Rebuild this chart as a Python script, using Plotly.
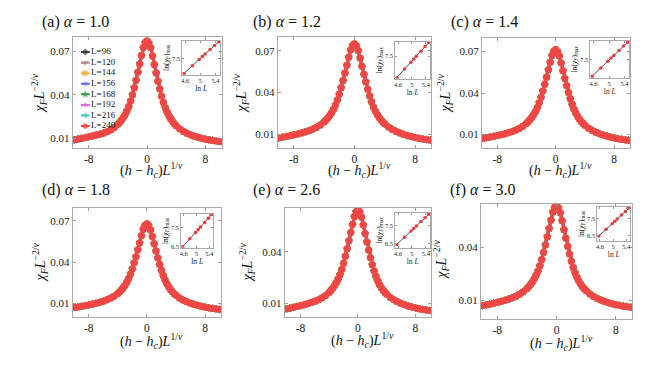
import plotly.graph_objects as go

# scaled field (h - hc) L^(1/nu)
x_scaled = [-10.0, -9.5, -9.0, -8.5, -8.0, -7.5, -7.0, -6.5, -6.0, -5.5, -5.0, -4.5,
            -4.0, -3.75, -3.5, -3.25, -3.0, -2.75, -2.5, -2.25, -2.0, -1.75, -1.5, -1.25,
            -1.0, -0.75, -0.5, -0.25, 0.0,
            0.25, 0.5, 0.75, 1.0, 1.25, 1.5, 1.75, 2.0, 2.25, 2.5, 2.75, 3.0,
            3.25, 3.5, 3.75, 4.0,
            4.5, 5.0, 5.5, 6.0, 6.5, 7.0, 7.5, 8.0, 8.5, 9.0, 9.5, 10.0]

# collapsed fidelity susceptibility chi_F L^(-2/nu), one list per alpha
chi_a = [0.0088, 0.0093, 0.0098, 0.0103, 0.0109, 0.0115, 0.0121, 0.0127, 0.0134, 0.0144, 0.0156, 0.0173,
         0.0195, 0.0209, 0.0225, 0.0243, 0.0263, 0.0289, 0.0319, 0.0357, 0.0399, 0.0448, 0.0500, 0.0556,
         0.0613, 0.0672, 0.0727, 0.0760, 0.0772,
         0.0758, 0.0725, 0.0668, 0.0608, 0.0550, 0.0493, 0.0440, 0.0390, 0.0347, 0.0310, 0.0280, 0.0254,
         0.0233, 0.0215, 0.0199, 0.0185,
         0.0163, 0.0146, 0.0133, 0.0122, 0.0113, 0.0106, 0.0099, 0.0093, 0.0088, 0.0084, 0.0080, 0.0076]
chi_b = [0.0074, 0.0079, 0.0084, 0.0090, 0.0096, 0.0102, 0.0109, 0.0117, 0.0126, 0.0137, 0.0150, 0.0167,
         0.0189, 0.0202, 0.0218, 0.0236, 0.0256, 0.0280, 0.0310, 0.0346, 0.0388, 0.0435, 0.0486, 0.0540,
         0.0596, 0.0654, 0.0706, 0.0738, 0.0750,
         0.0736, 0.0702, 0.0648, 0.0588, 0.0531, 0.0476, 0.0424, 0.0376, 0.0334, 0.0297, 0.0267, 0.0242,
         0.0221, 0.0203, 0.0188, 0.0174,
         0.0152, 0.0135, 0.0121, 0.0109, 0.0099, 0.0091, 0.0084, 0.0077, 0.0071, 0.0066, 0.0062, 0.0058]
chi_c = [0.0071, 0.0076, 0.0081, 0.0086, 0.0092, 0.0098, 0.0104, 0.0112, 0.0120, 0.0131, 0.0143, 0.0159,
         0.0180, 0.0193, 0.0208, 0.0225, 0.0244, 0.0267, 0.0296, 0.0330, 0.0370, 0.0415, 0.0463, 0.0515,
         0.0568, 0.0623, 0.0673, 0.0703, 0.0715,
         0.0701, 0.0669, 0.0618, 0.0561, 0.0506, 0.0454, 0.0404, 0.0359, 0.0319, 0.0284, 0.0255, 0.0231,
         0.0211, 0.0194, 0.0179, 0.0166,
         0.0145, 0.0129, 0.0116, 0.0105, 0.0096, 0.0088, 0.0081, 0.0075, 0.0069, 0.0065, 0.0061, 0.0057]
chi_d = [0.0071, 0.0075, 0.0080, 0.0085, 0.0090, 0.0096, 0.0102, 0.0109, 0.0117, 0.0127, 0.0139, 0.0154,
         0.0173, 0.0185, 0.0200, 0.0216, 0.0234, 0.0256, 0.0283, 0.0315, 0.0353, 0.0396, 0.0441, 0.0491,
         0.0541, 0.0593, 0.0640, 0.0669, 0.0680,
         0.0667, 0.0636, 0.0588, 0.0534, 0.0482, 0.0432, 0.0385, 0.0342, 0.0304, 0.0271, 0.0244, 0.0221,
         0.0202, 0.0186, 0.0172, 0.0160,
         0.0140, 0.0125, 0.0113, 0.0103, 0.0094, 0.0087, 0.0080, 0.0074, 0.0069, 0.0065, 0.0061, 0.0057]
chi_e = [0.0069, 0.0073, 0.0078, 0.0083, 0.0088, 0.0093, 0.0099, 0.0106, 0.0113, 0.0122, 0.0133, 0.0147,
         0.0165, 0.0177, 0.0190, 0.0205, 0.0222, 0.0243, 0.0268, 0.0298, 0.0334, 0.0375, 0.0418, 0.0465,
         0.0512, 0.0560, 0.0605, 0.0633, 0.0643,
         0.0631, 0.0602, 0.0556, 0.0506, 0.0457, 0.0410, 0.0366, 0.0325, 0.0289, 0.0258, 0.0233, 0.0211,
         0.0193, 0.0178, 0.0165, 0.0154,
         0.0136, 0.0122, 0.0111, 0.0101, 0.0093, 0.0086, 0.0080, 0.0075, 0.0070, 0.0066, 0.0063, 0.0060]
chi_f = [0.0072, 0.0076, 0.0080, 0.0085, 0.0090, 0.0095, 0.0101, 0.0108, 0.0115, 0.0124, 0.0135, 0.0149,
         0.0167, 0.0178, 0.0191, 0.0205, 0.0222, 0.0242, 0.0266, 0.0295, 0.0330, 0.0370, 0.0412, 0.0458,
         0.0504, 0.0551, 0.0596, 0.0623, 0.0633,
         0.0621, 0.0593, 0.0548, 0.0498, 0.0450, 0.0404, 0.0361, 0.0321, 0.0286, 0.0256, 0.0231, 0.0210,
         0.0193, 0.0178, 0.0166, 0.0155,
         0.0137, 0.0123, 0.0112, 0.0103, 0.0095, 0.0088, 0.0082, 0.0077, 0.0073, 0.0069, 0.0066, 0.0063]

# system sizes and inset data ln(chi_F)_max vs ln L
L_sizes = [96, 120, 144, 156, 168, 192, 216, 240]
ln_L = [4.564, 4.787, 4.970, 5.050, 5.124, 5.257, 5.375, 5.481]
lnchi_a = [6.72, 7.12, 7.44, 7.59, 7.72, 7.95, 8.16, 8.35]
lnchi_b = [6.62, 6.97, 7.25, 7.38, 7.49, 7.70, 7.89, 8.05]
lnchi_c = [6.74, 7.11, 7.41, 7.55, 7.67, 7.89, 8.09, 8.26]
lnchi_d = [6.50, 6.91, 7.24, 7.38, 7.52, 7.76, 7.98, 8.17]
lnchi_e = [6.46, 6.87, 7.21, 7.35, 7.49, 7.74, 7.95, 8.15]
lnchi_f = [6.45, 6.86, 7.19, 7.34, 7.47, 7.72, 7.93, 8.13]

alphas = ["1.0", "1.2", "1.4", "1.8", "2.6", "3.0"]
letters = ["a", "b", "c", "d", "e", "f"]

chis = [chi_a, chi_b, chi_c, chi_d, chi_e, chi_f]
lnchis = [lnchi_a, lnchi_b, lnchi_c, lnchi_d, lnchi_e, lnchi_f]

colors = ["#3c3c3c", "#b58585", "#f2b33d", "#6464f5", "#3f9a3f", "#e066e0", "#45c9c9", "#f24646"]
symbols = ["diamond", "triangle-down", "square", "asterisk-open", "star", "triangle-up",
           "triangle-left", "circle"]

W, H = 664, 374
SERIF = "Liberation Serif"

# pixel boxes (left, right, top, bottom)
main_boxes = [(63, 213, 29, 141), (269, 423, 29, 141), (474, 623, 30, 141),
              (63, 212, 201, 311), (276, 423, 201, 311), (473, 625, 197, 313)]
inset_boxes = [(173, 211, 33, 67), (387, 422, 34, 71), (583, 622, 33, 70),
               (172, 204, 207, 241), (387, 422, 206, 241), (590, 623, 200, 234)]
x_ranges = [[-10.2, 10.3], [-10.1, 10.1], [-10.1, 10.2], [-10.2, 10.2], [-10.2, 10.2], [-10.2, 10.2]]
y_ranges = [[0.003, 0.080], [0.0, 0.080], [0.0, 0.080], [0.0, 0.0795], [0.002, 0.0655], [-0.0005, 0.0642]]
y_ticks = [[0.01, 0.04, 0.07]] * 4 + [[0.01, 0.04]] * 2
inset_y_ranges = [[6.66, 8.40], [6.58, 8.08], [6.68, 8.32], [6.45, 8.20], [6.28, 8.22], [6.17, 8.20]]
inset_y_ticks = [[7.5], [7.5], [7.5], [6.5, 7.5], [6.5, 7.5], [6.5, 7.5]]
title_pos = [(30, 14), (242, 14), (441, 14), (30, 183), (242, 183), (440, 183)]
ytitle_pos = [(29, 86), (232, 86), (437, 86), (30, 256), (238, 256), (433, 253)]
xtitle_pos = [(142, 163), (351, 163), (553, 163), (142, 335), (354, 334), (554, 337)]


def dom_x(l, r):
    return [l / W, r / W]


def dom_y(t, b):
    return [1 - b / H, 1 - t / H]


fig = go.Figure()
layout = {}
annotations = []

for i in range(6):
    n = i + 1
    m = i + 7
    # main collapse curves, one per system size (red L=240 drawn last, on top)
    for j, L in enumerate(L_sizes):
        fig.add_trace(go.Scatter(
            x=x_scaled, y=chis[i], mode="lines+markers",
            line=dict(color=colors[j], width=3),
            marker=dict(symbol=symbols[j], size=6.5 if j == 7 else 5.5, color=colors[j],
                        line=dict(width=0.6, color=colors[j])),
            xaxis=f"x{n}", yaxis=f"y{n}", showlegend=False))
    # inset
    fig.add_trace(go.Scatter(
        x=ln_L, y=lnchis[i], mode="lines+markers",
        line=dict(color="#222222", width=0.8),
        marker=dict(symbol="circle", size=3.5, color="#e53b3b"),
        xaxis=f"x{m}", yaxis=f"y{m}", showlegend=False))

    l, r, t, b = main_boxes[i]
    layout[f"xaxis{n}"] = dict(
        domain=dom_x(l, r), range=x_ranges[i], anchor=f"y{n}",
        tickvals=[-8, 0, 8], ticktext=["-8", "0", "8"],
        ticks="inside", ticklen=3, tickcolor="#999999",
        showline=True, linecolor="#aaaaaa", linewidth=1, mirror="ticks",
        showgrid=False, zeroline=False,
        tickfont=dict(family=SERIF, size=11.5, color="#222222"))
    layout[f"yaxis{n}"] = dict(
        domain=dom_y(t, b), range=y_ranges[i], anchor=f"x{n}",
        tickvals=y_ticks[i], tickformat=".2f",
        ticks="inside", ticklen=3, tickcolor="#999999",
        showline=True, linecolor="#aaaaaa", linewidth=1, mirror="ticks",
        showgrid=False, zeroline=False,
        tickfont=dict(family=SERIF, size=11, color="#222222"))

    l, r, t, b = inset_boxes[i]
    layout[f"xaxis{m}"] = dict(
        domain=dom_x(l, r), range=[4.52, 5.52], anchor=f"y{m}",
        tickvals=[4.6, 5, 5.4], ticktext=["4.6", "5", "5.4"],
        ticks="inside", ticklen=2, tickcolor="#999999",
        showline=True, linecolor="#aaaaaa", linewidth=0.8, mirror="ticks",
        showgrid=False, zeroline=False,
        tickfont=dict(family=SERIF, size=6.5, color="#222222"),
        title=dict(text="ln <i>L</i>", standoff=0,
                   font=dict(family=SERIF, size=7.5, color="#222222")))
    layout[f"yaxis{m}"] = dict(
        domain=dom_y(t, b), range=inset_y_ranges[i], anchor=f"x{m}",
        tickvals=inset_y_ticks[i], tickformat=".1f",
        ticks="inside", ticklen=2, tickcolor="#999999",
        showline=True, linecolor="#aaaaaa", linewidth=0.8, mirror="ticks",
        showgrid=False, zeroline=False,
        tickfont=dict(family=SERIF, size=6.5, color="#222222"),
        title=dict(text="ln(<i>χ</i><sub><i>F</i></sub>)<sub>max</sub>", standoff=1,
                   font=dict(family=SERIF, size=7.5, color="#222222")))

    # panel title and axis titles
    tx, ty = title_pos[i]
    annotations.append(dict(
        text=f"({letters[i]}) <i>α</i> = {alphas[i]}", x=tx / W, y=1 - ty / H,
        xref="paper", yref="paper", xanchor="left", yanchor="middle", showarrow=False,
        font=dict(family=SERIF, size=16, color="#111111")))
    yx, yy = ytitle_pos[i]
    annotations.append(dict(
        text="<i>χ</i><sub><i>F</i></sub><i>L</i><sup>−2/<i>ν</i></sup>", x=yx / W, y=1 - yy / H,
        xref="paper", yref="paper", xanchor="center", yanchor="middle", showarrow=False,
        textangle=-90, font=dict(family=SERIF, size=14, color="#111111")))
    xx, xy = xtitle_pos[i]
    annotations.append(dict(
        text="(<i>h</i> − <i>h</i><sub><i>c</i></sub>)<i>L</i><sup>1/<i>ν</i></sup>",
        x=xx / W, y=1 - xy / H,
        xref="paper", yref="paper", xanchor="center", yanchor="middle", showarrow=False,
        font=dict(family=SERIF, size=14, color="#111111")))

# hand-made legend inside panel (a), on its own small axes
leg_labels = [f"L={L}" for L in L_sizes]
for j, lab in enumerate(leg_labels):
    fig.add_trace(go.Scatter(
        x=[0, 0.5, 1], y=[lab] * 3, mode="lines+markers",
        line=dict(color=colors[j], width=2),
        marker=dict(symbol=symbols[j], size=[0, 5, 0], color=colors[j],
                    line=dict(width=0.6, color=colors[j])),
        xaxis="x13", yaxis="y13", showlegend=False, cliponaxis=False))
fig.add_trace(go.Scatter(
    x=[1.15] * len(leg_labels), y=leg_labels, mode="text", text=leg_labels,
    textposition="middle right", textfont=dict(family=SERIF, size=9, color="#111111"),
    xaxis="x13", yaxis="y13", showlegend=False, cliponaxis=False))
layout["xaxis13"] = dict(domain=dom_x(71, 111), range=[0, 4.4], anchor="y13",
                         visible=False, fixedrange=True)
layout["yaxis13"] = dict(domain=dom_y(39, 124), anchor="x13", type="category",
                         categoryorder="array", categoryarray=leg_labels[::-1],
                         range=[-0.5, 7.5], visible=False, fixedrange=True)

fig.update_layout(
    width=W, height=H, margin=dict(l=0, r=0, t=0, b=0),
    paper_bgcolor="white", plot_bgcolor="rgba(0,0,0,0)",
    showlegend=False, annotations=annotations, **layout)

fig.write_html("out.html")
